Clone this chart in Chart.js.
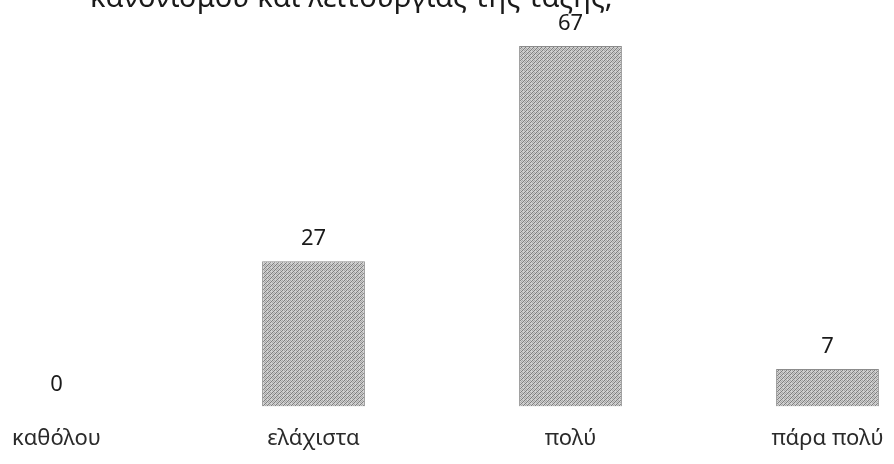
<!DOCTYPE html>
<html>
<head>
<meta charset="utf-8">
<script src="https://cdn.jsdelivr.net/npm/chart.js@4"></script>
<style>
    html, body { margin: 0; padding: 0; background: #fff; overflow: hidden; }
    #frame { width: 894px; height: 464px; position: relative; overflow: hidden; }
    /* the scanned chart is cropped on the sides and bottom, so the canvas is bigger than the page */
    #wrap { width: 1028px; height: 479px; position: absolute; left: -72px; top: 0; }
</style>
</head>
<body>
<div id="frame"><div id="wrap"><canvas id="chart"></canvas></div></div>
<script>
// Chart data
const titleText = 'κανονισμού και λειτουργίας της τάξης;';
const categories = ['καθόλου', 'ελάχιστα', 'πολύ', 'πάρα πολύ'];
const values = [0, 27, 67, 7];

// Stippled grey fill, like the scanned bars
function makePattern() {
    const c = document.createElement('canvas');
    c.width = 4;
    c.height = 4;
    const ctx = c.getContext('2d');
    ctx.fillStyle = '#cfcfcf';
    ctx.fillRect(0, 0, 4, 4);
    ctx.fillStyle = '#7e7e7e';
    ctx.fillRect(0, 0, 1, 1);
    ctx.fillRect(2, 2, 1, 1);
    ctx.fillRect(3, 1, 1, 1);
    ctx.fillRect(1, 3, 1, 1);
    ctx.fillStyle = '#a8a8a8';
    ctx.fillRect(2, 0, 1, 1);
    ctx.fillRect(0, 2, 1, 1);
    ctx.fillRect(1, 1, 1, 1);
    return ctx.createPattern(c, 'repeat');
}

// Draws the cut-off title line and the value labels
const labelPlugin = {
    id: 'labelPlugin',
    afterDatasetsDraw(chart) {
        const ctx = chart.ctx;
        ctx.save();
        ctx.fillStyle = '#1a1a1a';
        ctx.font = '29px "Noto Sans"';
        ctx.textAlign = 'left';
        ctx.textBaseline = 'alphabetic';
        ctx.fillText(titleText, 90 + 72, 7);

        ctx.font = '22px "Noto Sans"';
        ctx.textAlign = 'center';
        const meta = chart.getDatasetMeta(0);
        meta.data.forEach((bar, i) => {
            ctx.fillText(String(values[i]), bar.x, bar.y - 16);
        });
        ctx.restore();
    }
};

new Chart(document.getElementById('chart'), {
    type: 'bar',
    data: {
        labels: categories,
        datasets: [{
            data: values,
            backgroundColor: makePattern(),
            borderColor: '#8c8c8c',
            borderWidth: 1,
            categoryPercentage: 0.8,
            barPercentage: 0.5
        }]
    },
    options: {
        responsive: true,
        maintainAspectRatio: false,
        animation: false,
        layout: {
            padding: { left: 0, right: 0, top: 46, bottom: 16 }
        },
        plugins: {
            legend: { display: false },
            tooltip: { enabled: false }
        },
        scales: {
            x: {
                grid: { display: false },
                border: { display: false },
                ticks: {
                    color: '#2a2a2a',
                    padding: 11,
                    maxRotation: 0,
                    font: { family: 'Noto Sans', size: 22 }
                }
            },
            y: {
                display: false,
                min: 0,
                max: 67
            }
        }
    },
    plugins: [labelPlugin]
});
</script>
</body>
</html>
